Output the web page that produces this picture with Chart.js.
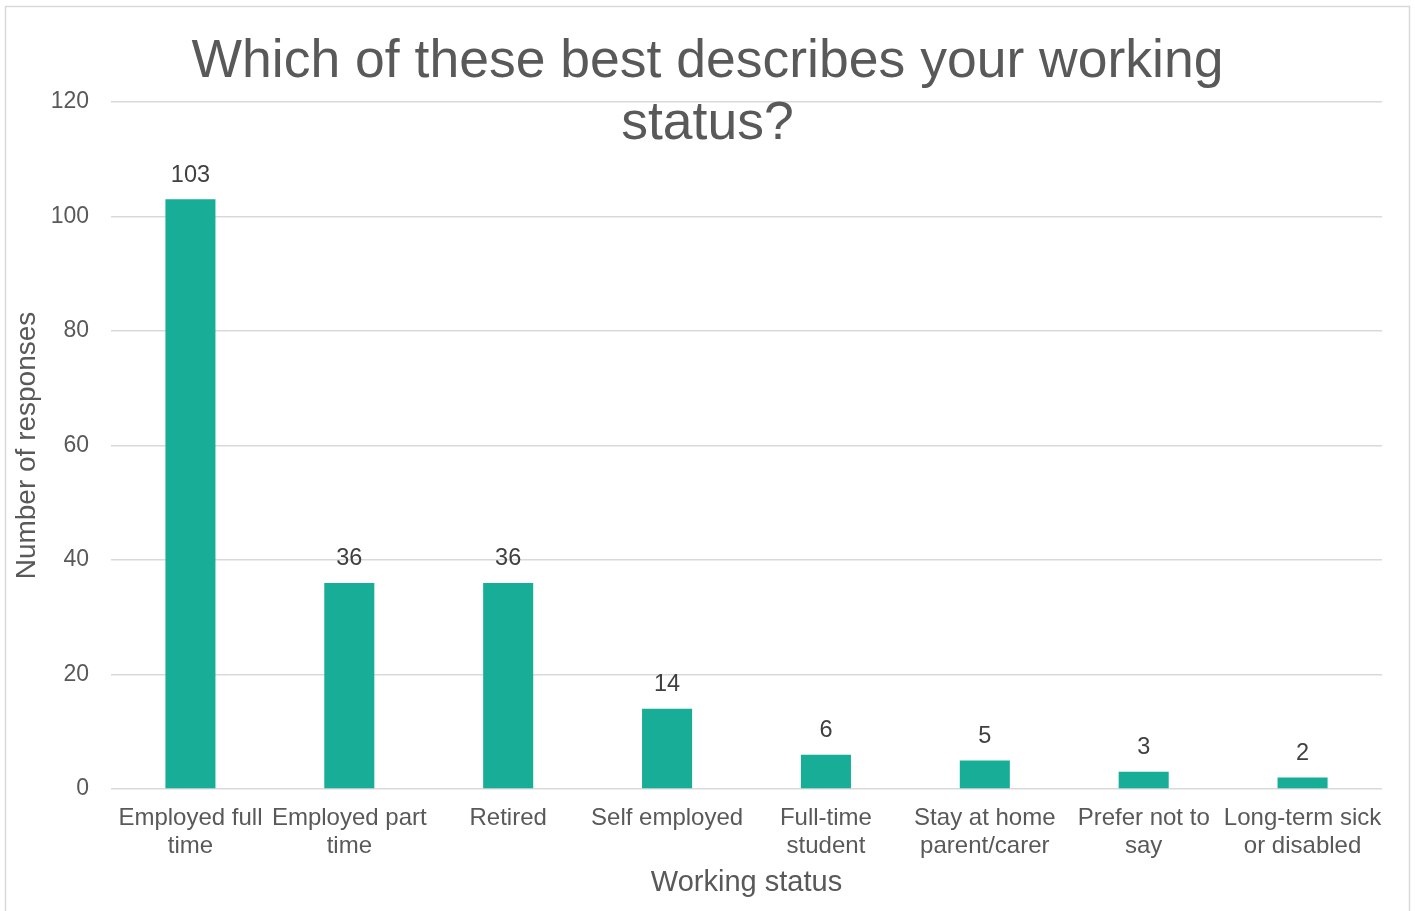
<!DOCTYPE html>
<html>
<head>
<meta charset="utf-8">
<script src="https://cdn.jsdelivr.net/npm/chart.js@4"></script>
<style>
html, body { margin:0; padding:0; background:#fff; }
#wrap { position:relative; width:1415px; height:911px; }
</style>
</head>
<body>
<div id="wrap"><canvas id="chart"></canvas></div>
<script>
const chartTitle = ['Which of these best describes your working', 'status?'];
const categories = [
['Employed full', 'time'],
['Employed part', 'time'],
['Retired'],
['Self employed'],
['Full-time', 'student'],
['Stay at home', 'parent/carer'],
['Prefer not to', 'say'],
['Long-term sick', 'or disabled']
];
const responses = [103, 36, 36, 14, 6, 5, 3, 2];
const yMin = 0, yMax = 120, yStep = 20;

const FONT = '"Liberation Sans", Arial, sans-serif';
const GREY = '#595959';

// frame + floating title, Excel style
const decor = {
id:'decor',
beforeDraw(chart) {
const c = chart.ctx;
c.save();
c.strokeStyle = '#d9d9d9';
c.lineWidth = 1.5;
c.strokeRect(5.5, 6.5, 1404, 1000);
c.restore();
},
afterDraw(chart) {
const c = chart.ctx;
c.save();
c.fillStyle = GREY;
c.font = '53.5px ' + FONT;
c.textAlign = 'center';
c.textBaseline = 'alphabetic';
chartTitle.forEach((t, i) => c.fillText(t, chart.width / 2, 77 + i * 62));
c.restore();
}
};

const valueLabels = {
id:'valueLabels',
afterDatasetsDraw(chart) {
const c = chart.ctx;
const meta = chart.getDatasetMeta(0);
c.save();
c.fillStyle = '#404040';
c.font = '23.5px ' + FONT;
c.textAlign = 'center';
c.textBaseline = 'middle';
meta.data.forEach((bar, i) => {
c.fillText(String(responses[i]), bar.x, bar.y - 24);
});
c.restore();
}
};

new Chart(document.getElementById('chart'), {
type:'bar',
data:{
labels:categories,
datasets:[{
label:'Number of responses',
data:responses,
backgroundColor:'#18ad97',
borderWidth:0,
categoryPercentage:1,
barPercentage:0.315
}]
},
options:{
responsive:true,
maintainAspectRatio:false,
devicePixelRatio:1,
animation:false,
layout:{ padding:{ top:102, right:33, bottom:0, left:0 } },
plugins:{ legend:{ display:false }, tooltip:{ enabled:false } },
scales:{
x:{
grid:{ display:false, drawTicks:false },
border:{ display:false },
ticks:{
color:GREY, padding:15, maxRotation:0, minRotation:0, autoSkip:false,
font:{ family:FONT, size:24, lineHeight:1.17 }
},
title:{
display:true, text:'Working status', color:GREY,
font:{ family:FONT, size:29, lineHeight:1.2 },
padding:{ top:0, bottom:11 }
},
afterFit(s) { s.height = 122; }
},
y:{
min:yMin, max:yMax,
grid:{ color:'#d9d9d9', lineWidth:1.5, drawTicks:false },
border:{ display:false },
ticks:{
stepSize:yStep, color:GREY, padding:22,
font:{ family:FONT, size:23 }
},
title:{
display:true, text:'Number of responses', color:GREY,
font:{ family:FONT, size:28, lineHeight:1.2 },
padding:{ top:10, bottom:0 }
},
afterFit(s) { s.width = 111; }
}
}
},
plugins:[decor, valueLabels]
});
</script>
</body>
</html>
